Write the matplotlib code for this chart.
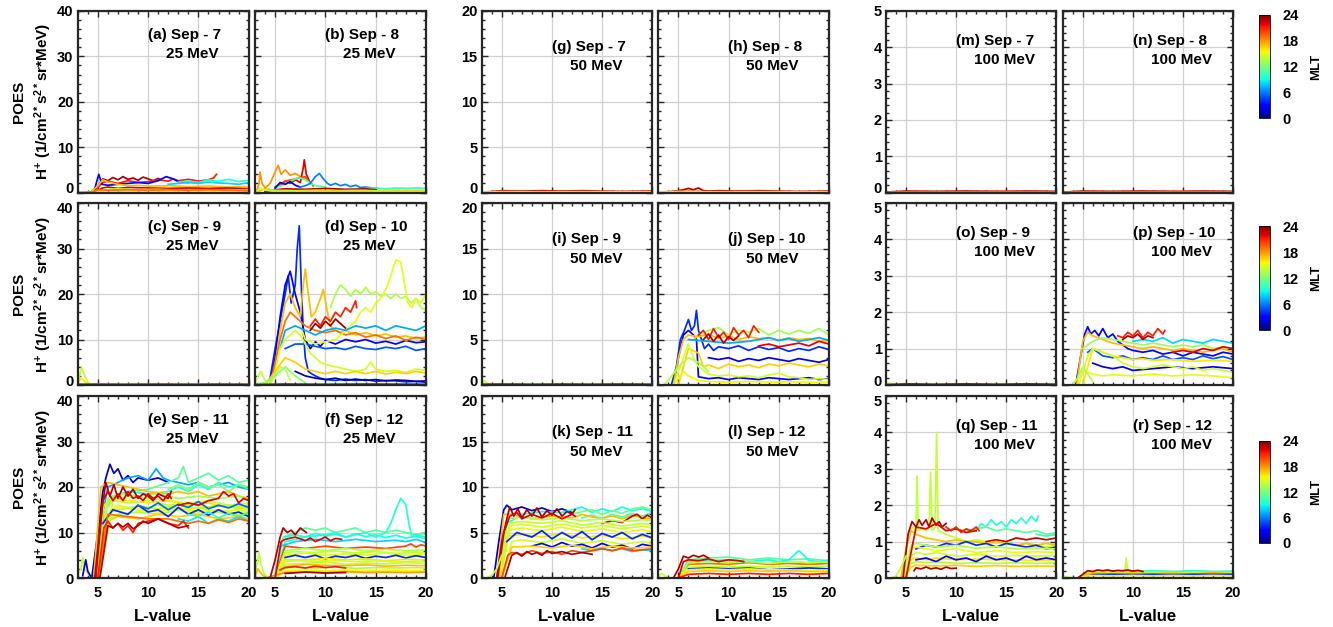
import matplotlib
matplotlib.use('Agg')
import matplotlib.pyplot as plt
from matplotlib.ticker import MultipleLocator
from matplotlib.colors import Normalize
from matplotlib.cm import ScalarMappable
from matplotlib.transforms import ScaledTranslation

plt.rcParams['font.family'] = 'Liberation Sans'
plt.rcParams['font.weight'] = 'bold'
plt.rcParams['mathtext.fontset'] = 'custom'
plt.rcParams['mathtext.rm'] = 'Liberation Sans:bold'
plt.rcParams['mathtext.bf'] = 'Liberation Sans:bold'
plt.rcParams['mathtext.it'] = 'Liberation Sans:bold'

# ---------------- data: (MLT, L-values, flux) per trace ----------------
panel_a = [
    (23, [4.3,5.0,5.5,6.0,6.5,7.0,7.5,8.0,8.5,9.0,9.5,10.0,10.5,11.0,11.3], [0,1.5,3.0,2.6,3.3,2.8,3.5,2.9,3.2,2.7,3.4,3.0,2.6,3.1,2.8]),
    (21, [4.5,5.5,6,7,8,9,10,11,12,12.5,13,14,15,16,16.5,16.8], [0,2.2,2.5,2.0,2.6,2.2,2.4,2.8,2.5,3.0,2.6,2.9,2.5,2.8,3.2,4.0]),
    (3, [4.6,4.9,5.1,5.4,6,7,8,9,10,11,11.8,12.5,13,14], [0,2.5,4.0,1.8,1.6,1.8,2.0,2.2,2.0,2.6,3.5,3.0,2.4,2.2]),
    (9.5, [13,14,15,16,17,18,19,20], [2.3,2.5,2.2,2.8,2.5,2.9,2.4,2.7]),
    (8, [12,13,14,15,16,17,18,19,20], [1.8,2.0,2.2,2.0,2.3,2.1,2.0,1.8,2.2]),
    (17, [4.3,5,5.5,6,7,8,9,10,12,14,16,18,20], [0,1.5,2.8,2.3,1.8,1.5,1.6,1.4,1.5,1.3,1.4,1.2,1.3]),
    (22, [4.5,5.5,6,7,8,10,12,14,16,18,20], [0,1.0,1.2,0.9,1.1,1.0,0.9,1.0,0.9,1.0,0.8]),
    (14, [4.5,5.5,7,9,11,13,15,17,20], [0,0.6,0.8,0.6,0.7,0.5,0.6,0.5,0.6]),
    (15.5, [3,4,5,6,8,10,12,14,16,18,20], [0,0.1,0.3,0.4,0.3,0.4,0.3,0.4,0.3,0.3,0.3]),
    (19, [3,4.5,5,6,8,10,12,14,16,18,20], [0,0.1,0.6,0.5,0.6,0.5,0.6,0.5,0.6,0.5,0.4]),
]
panel_b = [
    (18, [3.2,3.4,3.5,3.7,4.0,4.5,5.0,5.3,5.6,6.0,6.5,7.0,7.5,8.0], [0.5,2.0,4.5,2.0,1.0,2.0,4.5,6.0,4.0,5.0,3.8,4.2,3.5,3.0]),
    (22, [5.5,6,6.5,7,7.5,7.8,7.9,8.1,8.4,8.8], [1.5,2.5,2.0,2.8,2.2,5.5,7.2,4.0,2.5,1.5]),
    (20, [5,6,7,8,8.5], [1.2,2.5,3.0,3.5,2.0]),
    (11, [5,6,7,7.5,8,8.5,9,10], [1.0,1.8,3.0,3.2,2.8,2.0,1.5,1.2]),
    (2, [5,5.5,6,6.5,7,7.5], [1.0,2.2,1.8,2.4,1.6,1.2]),
    (6, [7.5,8,8.5,9,9.4,9.8,10.2,10.5,11,11.5,12,12.5,13,13.5,14,15], [1.2,1.5,2.0,3.5,4.2,3.0,2.0,1.6,2.0,1.5,1.8,1.3,1.6,1.1,1.2,0.9]),
    (10, [14,15,16,17,18,19,20], [0.9,1.0,0.8,1.0,0.9,1.0,0.9]),
    (23, [4,5,6,8,10,12,14,15], [0.2,0.6,0.8,0.7,0.9,0.7,0.8,0.6]),
    (17, [3.2,4,5,7,9,11,13,15,17,20], [0.2,0.8,0.5,0.4,0.5,0.4,0.5,0.4,0.4,0.4]),
    (14, [3.2,3.5,4,5,7,10,14,20], [0.3,1.0,0.5,0.3,0.3,0.2,0.3,0.2]),
]
panel_c = [
    (14, [3.0,3.2,3.4,3.6,3.8,4.0,4.3], [0.5,2.0,4.0,2.5,1.5,0.6,0.1]),
    (16, [3.0,3.3,3.6,4.0], [0.3,1.5,1.0,0.2]),
    (23, [3,5,8,11,14,17,20], [0.15,0.2,0.15,0.2,0.15,0.2,0.15]),
    (19, [3,6,10,15,20], [0.1,0.15,0.1,0.15,0.1]),
]
panel_d = [
    (4, [4.0,4.5,5.0,5.5,6.0,6.3,6.6,7.0,7.2,7.4,7.6,7.8,8.0,8.3,8.6,9.0,9.5,10,11,12,13,14,15,16,17,18,19,20],
        [0,1.5,8,14,20,24,18,22,30,35,22,12,6,3,2.5,2,1.5,1.2,1.0,1.3,1.0,1.2,0.8,1.0,0.9,0.7,0.8,0.6]),
    (2.5, [4.5,5,5.5,6,6.5,7,7.5,8,8.5,9,9.5,10,11,12,13,14,15,16,17,18,19,20],
          [0,6,15,22,25,20,16,10,8,9.5,8.5,9.8,9,10,9.5,10,9.2,9.6,9.0,9.8,9.3,9.5]),
    (17, [4.5,5,5.5,6,6.5,7,7.5,7.8,8.0,8.3,8.6,9,9.5,9.8,10.2,10.5,11,11.5,12,13,14,15,16,17,18,19,20],
         [0,4,12,18,20,17,15,22,25.5,20,15,16,19,21,16,13,12,11.5,12,11,11.5,10.8,11.2,10.5,10.8,10.2,10.6]),
    (19, [4.5,5.5,6,6.5,7,7.5,8,9,10,11,12,13,14,15,16,17,18,19,20],
         [0,10,14,16,15,14,13,12,11.5,12,11,11.5,10.5,11,10.2,10.8,9.8,10.5,10]),
    (21, [8.5,9,9.5,10,10.5,11,11.5,12,12.5,13,13.1], [13,14.5,13,15,14,16,15,17,16,18.5,17]),
    (23.5, [8.5,9,9.5,10,10.5,11,11.5,12], [12,13.5,12.5,14,13,14.5,13.5,12.5]),
    (13.5, [10.5,11,11.5,12,12.5,13,13.5,14,14.5,15,15.5,16,16.5,17,17.5,18,18.5,19,19.5,20],
           [17,20,22,21,19.5,21,20,21.5,20,20.5,19.5,20,19,20,19,19.5,18,19,17,16.5]),
    (15, [7.5,8,9,10,11,11.5,12,12.5,13,13.5,14,14.5,15,15.5,16,16.5,17,17.5,17.8,18.2,18.6,19,19.5,20],
         [13,10,9,9.5,10,11,12,13,14,16,17,16,18,19,21,24,27.5,27,23,18,17,19,18,20]),
    (7, [5.5,6,7,8,9,10,11,12,13,14,15,16,17,18,19,20], [8,12,13,12,11,12,12.5,12,13,12.5,13,12,13,12.5,12,13]),
    (5, [6,7,8,9,10,11,12,13,14,15,16,17,18,19,20], [8,9,9,8.5,8,8.2,7.8,8.5,8,7.8,8.3,8,8.5,7.6,8]),
    (14.5, [4.5,5,5.5,6,6.5,7,7.5,8,8.5,9,9.5,10,11,12,13,14,14.5,15,16,17,18,19,20],
           [0,3,8,10,11,12,11,9,7,6,5,4.5,4,3.5,3,3.5,5,3.5,3,3.2,2.8,3.5,3.2]),
    (16.5, [4,5,6,7,8,9,10,11,12,13,14,15,16,17,18,19,20], [0,3,6,5,3.5,3,2.5,3,2.5,3,2.5,3,2.4,2.8,2.5,3,2.6]),
    (1, [7,8,9,10,11,12,13,14,15,16,17,18,19,20], [3,2,1.5,1.2,1.5,1.0,1.3,1.0,1.2,0.9,1.1,1.0,0.8,0.9]),
    (14, [3.0,3.3,3.6,4.0,4.5,5,5.5,6,6.5], [0.5,2,3,1,0.5,2,4,3.5,1]),
    (12.5, [3,4,5,6,7,8], [0.2,0.5,2,4,2,0.5]),
    (23, [3,6,10,14,20], [0.1,0.2,0.15,0.2,0.15]),
]
panel_e = [
    (1.5, [4.4,5.0,5.5,5.8,6.2,6.6,7.0,7.5,8.0,8.5,9.0,10,11,12], [0,10,19,22,25,23,24,21.5,22.5,21,22,21.5,22,21]),
    (7, [4.6,5.3,6,7,8,9,10,10.8,11.5,12,13,14,15,16,17,18,19,20], [0,12,20,21,22,22.5,21.5,24,22,21.5,21,20.5,21,20,20.5,21,20,19.5]),
    (11, [4.8,5.5,6,8,10,12,13,13.5,14,15,16,17,18,19,20], [0,12,17,19,19.5,21,22,24.5,21,22,23,21.5,22.5,21,21.5]),
    (9.5, [4.8,5.6,6.5,8,10,12,13,14,15,16,17,18,19,20], [0,14,18,19,18.5,19,20,19,20.5,19.5,21,20,20.5,19.5]),
    (12, [12,13,14,15,16,17,18,19,20], [19.5,20.5,19.5,21,20,20.5,19,20.5,20]),
    (17, [4.6,5.3,6,8,10,12,13,14,15,16,17,18,19,20], [0,20,21,20,19,18.5,19,18.5,19,18,18.5,19,18,17.5]),
    (14.5, [5.2,6.5,8,10,12,14,16,18,20], [0,17,18,17.5,17,16.5,17,16,16.5]),
    (13, [5.0,6,7,9,11,13,15,17,19,20], [0,17.5,18.5,18,18.5,17.5,18,17.5,18,17]),
    (16, [4.7,5.6,6.5,8,10,12,14,16,18,20], [0,16,17.5,17,16.5,17,16,16.5,15.5,16]),
    (14, [4.8,5.8,6.5,8,10,12,14,16,18,20], [0,15,17,16.5,17,16,16.5,15.5,16,15]),
    (15.5, [5.1,6.3,7,9,11,13,15,17,19,20], [0,15,16,15,14.5,15.5,14.5,15,14,14.5]),
    (15, [5.0,6.0,7,9,11,13,15,17,19,20], [0,14,15.5,15,16,15,15.5,14.5,15,14.5]),
    (13.5, [5.0,6.2,7,9,11,13,15,17,19,20], [0,13,14,14.5,14,15,14,14.5,13.5,14]),
    (16.5, [5.0,6,7,9,11,13,15,17,19,20], [0,12.5,13.5,13,14,13.5,14,13,13.5,13]),
    (14, [5.2,6.3,7,9,11,13,15,17,19,20], [0,14.5,15,15.8,15.2,16,15.3,16,15.2,15.6]),
    (4, [5.5,6.5,8,9,10,11,12,13,14,15,16,17,18,19,20], [12,15,14,16,14.5,15,13.5,15.5,14,15,13.8,15,14,14.5,13.5]),
    (5.5, [9,10,11,12,13,14,15,16,17,18,19,20], [16,15.2,16.5,15,16.2,15.5,16.8,15.2,16,15.4,16.3,15.5]),
    (8.5, [13,14,15,16,17,18,19,20], [13,12.5,13.5,12,13,12.5,13.5,12.5]),
    (10, [14,15,16,17,18,19,20], [14,13.5,14.5,13.2,14.2,13.6,14.4]),
    (19, [5,6,8,10,12,13,14,15,16,17,18,19,20], [0,14,13.5,13,13,12.5,12,12.5,12,12.8,12.2,13,12.5]),
    (23, [4.7,5.4,5.8,6.2,6.6,7,7.5,8,8.5,9,9.5,10,10.5,11,11.5,12,12.3], [0,15,21,18,20.5,17.5,20,18,19.5,17.5,18.5,18,17,18.5,18,17.5,19]),
    (22, [4.8,5.5,6,6.5,7,7.5,8,8.5,9,9.5,10,10.5,11,11.5,12,12.3], [0,17,19,17,18.5,17,19,17.5,18,17,18.5,17.5,18,17,18.5,17.5]),
    (21, [5,5.6,6,6.5,7,7.5,8,8.5,9,10,11,12,13,13.5,14], [0,11,12.5,11,12,10.5,11.5,10,12,12.5,13,12,11.5,12.5,11]),
    (23, [5.2,6,6.5,7,7.5,8,8.5,9,9.5,10,11,12,13,14], [0,11.5,11,12,11.2,12,10.8,11.5,12.5,12,13,12,11,11.5]),
    (22, [13,14,15,16,17,17.5,18,18.5,19,19.5,20], [16,16.5,16,17,17.5,19,18,18.5,16.5,17.5,17]),
    (14, [3.0,3.3,3.5,3.7,4.0,4.4], [0.5,2,4.5,2,1,0]),
    (2, [3.5,3.8,4.0,4.3], [0.5,4,1.5,0.3]),
]
panel_f = [
    (11, [5,5.8,7,8,9,10,11,12,13,14,15,16,17,18,19,20], [0,9,10,11,10.5,11,10,10.5,11,10,10.5,10,10.5,10,9.5,10]),
    (9.5, [5,6,8,10,11,12,13,14,15,16,16.5,17,17.5,18,18.3,18.6,19,20], [0,8,9,9.5,10,9,9.5,10,9,10,12,15,17.5,16,12,9,9.5,9]),
    (8, [5.5,7,9,11,13,15,17,18,19,20], [7,8,8.5,8,8.5,8,8.3,8,8.5,7.8]),
    (9, [6,7,8,9,10,11,12,13,14,15,16,17,18,19,20], [9,9.5,9,9.8,9.2,9.6,9,9.7,9.1,9.5,8.9,9.4,8.8,9.2,8.6]),
    (20, [5,6,8,10,12,14,16,18,18.5,19,19.5,20], [0,7,6.5,7,6.5,6.8,6.5,7,7.5,6.8,7.3,7]),
    (13.5, [5,6,8,10,12,14,16,18,20], [0,6,6.5,6,6.5,6,6.3,6,6.2]),
    (14, [5,6,7,9,11,13,15,17,19,20], [0,5.5,5.8,5.6,5.9,5.5,5.8,5.4,5.7,5.5]),
    (15, [5,6,8,10,12,14,16,18,20], [0,5,5.5,5,5.3,5,5.5,5,5.3]),
    (4, [6,7,8,9,10,11,12,13,14,15,16,17,18,19,20], [4.5,5,4.5,5,4.2,4.8,4.5,5,4.3,4.8,4.5,5,4.4,4.9,4.5]),
    (16, [5,6,8,10,12,14,16,18,20], [0,4,4,4.3,4,4.2,3.8,4.1,4]),
    (14.5, [5,6,7,9,11,13,15,17,19,20], [0,3.6,3.8,3.7,3.9,3.6,3.8,3.5,3.7,3.6]),
    (14, [5,6,8,10,12,14,16,18,20], [0,3,3.2,3.5,3,3.3,3.1,3.4,3.2]),
    (17, [5,6,8,10,12,14,16,18,20], [0,2.5,3,2.8,2.7,2.9,2.6,2.8,2.7]),
    (13.5, [5,6,7,9,11,13,15,17,19,20], [0,2.2,2.3,2.2,2.4,2.1,2.3,2.2,2.3,2.2]),
    (15.5, [5,6,8,10,12,14,16,18,20], [0,1.5,1.8,1.6,1.7,1.5,1.7,1.6,1.7]),
    (18, [4,6,8,10,12,14,16,18,20], [0,1.2,1.3,1.2,1.4,1.2,1.3,1.2,1.3]),
    (23, [4.5,5.0,5.5,5.8,6.2,6.6,7,7.5,8.1], [0,4,9,11,10,10.5,9.5,11,10]),
    (22, [5.0,5.6,6,7,8,8.5,9,9.5,10,10.5,11,11.6], [0,8,8.5,9,8.2,8.8,8,8.5,9,8.2,8.7,8.5]),
    (21, [5.5,6,7,8,9,10,11,12], [1.8,2.3,2.5,2.2,2.6,2.3,2.5,2.2]),
    (23.5, [6,8,10,12], [1.0,1.3,1.1,1.2]),
    (14, [3,3.2,3.4,3.6,3.9,4.3], [0.5,3,5.5,3,1,0]),
    (17, [3,3.3,3.6,4], [0.3,2,1,0.2]),
]
panel_g = [
    (23, [3,4,5,7,9,11,13,15,17,20], [0.05,0.1,0.2,0.15,0.2,0.15,0.2,0.15,0.1,0.15]),
    (19, [3,5,8,12,16,20], [0.05,0.12,0.1,0.12,0.1,0.1]),
    (15, [3,5,10,15,20], [0.05,0.08,0.06,0.08,0.06]),
]
panel_h = [
    (23, [4,5,5.5,6,6.5,7,7.5,8,9,11,13,15,17,20], [0.05,0.2,0.3,0.45,0.3,0.5,0.2,0.15,0.2,0.15,0.2,0.15,0.1,0.15]),
    (19, [3,5,8,12,16,20], [0.05,0.15,0.1,0.12,0.1,0.1]),
    (15, [3,5,10,15,20], [0.05,0.08,0.06,0.08,0.06]),
]
panel_i = [
    (14, [3,3.2,3.4,3.7,4.0], [0.1,0.5,0.3,0.1,0.05]),
    (23, [3,5,8,11,14,17,20], [0.08,0.1,0.08,0.1,0.08,0.1,0.08]),
]
panel_j = [
    (4, [4.3,4.8,5.2,5.6,6.0,6.3,6.6,6.8,7.0,7.3,7.6,8,8.5,9,10,11,12,13,14,15,16,17,18,19,20],
        [0,2,5,6,7.2,6,6.5,8.2,6,5,4,4.5,3.8,4.2,4.0,4.3,3.8,4.2,3.9,4.1,3.7,4.0,3.8,4.2,3.9]),
    (3, [4.5,5,5.5,6,6.5,6.8,7.0,7.5,8,9,10,11,12,13,14,15,16,17,18,19,20],
        [0,3,5.5,6,5.5,5,0.9,0.8,0.7,0.8,0.6,0.8,0.7,0.6,0.8,0.7,0.6,0.7,0.8,0.6,0.7]),
    (13, [6.5,7,8,9,10,11,12,13,14,15,16,17,18,19,20], [5,5.5,6,6.3,5.5,6,5.8,6.2,5.5,6,5.6,6,5.7,6.2,5.5]),
    (17, [4.5,5,5.5,6,7,8,9,10,11,12,13,14,15,16,17,18,19,20], [0,3,5,5.5,5.3,5.6,5.1,5.4,5,5.3,5.1,5.2,4.9,5.2,5,5.1,4.8,5]),
    (7, [6,8,10,12,13,14,15,16,17,18,19,20], [5,4.8,4.6,4.8,5,5.2,4.9,5.1,4.8,5,5.2,4.9]),
    (22, [13,14,15,16,17,18,19,20], [4.3,4.5,4.2,4.4,4.6,4.3,4.8,4.5]),
    (2, [8,9,10,11,12,13,14,15,16,17,18,19,20], [3,2.8,3,2.6,2.9,2.7,3,2.8,2.6,2.9,2.7,2.5,2.8]),
    (16.5, [5,6,7,7.5,8,9,10,11,12,13,14,15,16,17,18,19,20], [0,4,3.5,2,2.2,1.8,2.3,2,2.2,1.9,2.3,2.1,2.4,2.2,2,2.3,2.1]),
    (14.5, [4.5,5.5,6,6.5,7,8,9,10,11,12,13,14,15,16,17,18,19,20], [0,3,4.5,3,2,1.2,1,1.1,0.9,1,0.8,1.1,1.3,0.9,0.8,0.6,0.7,0.6]),
    (15.5, [4.5,5.5,6,7,8,10,12,14,16,18,20], [0,1.5,1,0.5,0.4,0.3,0.4,0.3,0.35,0.3,0.3]),
    (21, [7,7.5,8,8.5,9,9.5,10,10.5,11,11.5,12,12.5,13], [5.5,6,5,6.2,5.2,5.8,5,6.3,5.5,6,5.2,6.5,5.8]),
    (23, [7.5,8,8.5,9,9.5,10,10.5,11], [5,5.6,4.8,5.5,4.6,5.3,4.9,5.4]),
    (13.5, [3.5,4,5,6,7,8], [0,0.5,2,3,2.5,1.5]),
]
panel_k = [
    (1.5, [4.2,4.7,5.2,5.5,6,7,8,9,10,11,12], [0,4,7.5,8,7.5,7.8,7.4,7.7,7.3,7.6,7.2]),
    (9, [4.6,5.5,7,9,11,12,13,14,15,16,17,18,19,20], [0,6,7,7.3,7.2,7.5,7.8,7.2,7.6,7.3,7.8,7.4,7.6,7.3]),
    (11.5, [12,13,14,15,16,17,18,19,20], [7,7.3,7.5,7,7.4,7.1,7.6,7.8,7.5]),
    (10.5, [13,14,15,16,17,18,19,20], [6.6,6.9,6.5,7,6.7,7.1,6.8,7.2]),
    (17, [4.5,5.2,6,8,10,12,13,14,15,16,17,18,19,20], [0,7,7,6.5,6.8,6.6,7,6.7,6.6,6.8,6.5,6.9,6.6,6.5]),
    (22.5, [15,16,17,18,18.5,19,19.5,20], [6,6.3,6.1,6.8,7,6.5,6.9,6.6]),
    (14, [4.8,5.8,7,9,11,13,15,17,19,20], [0,6,6.2,6,6.3,5.8,6.1,5.7,6,5.8]),
    (13.5, [4.8,5.6,7,9,11,13,15,17,19,20], [0,6.5,6.7,6.4,6.6,6.3,6.5,6.2,6.4,6.3]),
    (15, [4.8,5.8,7,9,11,13,15,17,19,20], [0,5.3,5.5,5.2,5.6,5.1,5.4,5,5.3,5.1]),
    (14.5, [4.9,5.8,7,9,11,13,15,17,19,20], [0,5.7,5.9,5.6,5.9,5.5,5.8,5.4,5.7,5.5]),
    (16, [4.8,5.6,7,9,11,13,15,17,19,20], [0,4.6,4.8,4.5,4.9,4.4,4.7,4.3,4.6,4.4]),
    (14.5, [5,6,7,9,11,13,15,17,19,20], [0,4,4.2,3.9,4.3,3.8,4.1,3.7,4,3.8]),
    (4, [5.5,6.5,8,9,10,11,12,13,14,15,16,17,18,19,20], [4,5,4.5,5.2,4.3,5,4.4,5.1,4.2,4.9,4.5,5,4.3,4.8,4.4]),
    (3, [8,9,10,11,12,13,14,15,16,17,18,19,20], [3.5,3.8,3.4,3.9,3.5,3.7,3.3,3.8,3.4,3.6,3.2,3.7,3.5]),
    (16.5, [5,6,8,10,12,14,16,18,20], [0,3.4,3.5,3.3,3.6,3.2,3.5,3.3,3.4]),
    (8.5, [13,14,15,16,17,18,19,20], [3.2,3,3.3,3,3.2,2.9,3.1,3]),
    (20, [5,5.6,6,7,8,9,10,11,12,13,14,15,16,17,18,19,20], [0,2.5,2.8,2.6,3,2.7,2.9,2.6,3,2.8,3,3.2,3,3.3,3,3.1,3.2]),
    (23, [4.5,5,5.5,5.8,6.2,6.6,7,7.5,8,8.5,9,9.5,10,10.5,11,11.5,12,12.3], [0,4,6.5,7.8,6.8,7.6,6.6,7.5,6.8,7.7,6.7,7.4,6.9,7.6,6.8,7.3,7,7.5]),
    (22, [4.6,5.2,5.8,6.5,7,8,9,10,11,12,12.3], [0,5,6.8,7.2,6.5,7,6.6,7.1,6.5,7,6.8]),
    (23, [5.3,6,6.5,7,7.5,8,8.5,9,9.5,10,11,12,13,14], [0,2.5,2.8,2.4,2.9,2.6,2.8,2.5,3,2.7,2.9,2.6,2.8,2.6]),
    (14, [3.5,4,4.5,5,5.5], [0,0.3,1,2.5,3]),
]
panel_l = [
    (11, [5,6,8,10,12,14,16,18,20], [0,2,2.2,2.3,2,2.2,2,2.1,1.9]),
    (9, [5,6,8,10,12,14,15,16,16.5,17,17.5,18,19,20], [0,1.8,1.9,2,1.8,2,1.8,2,2.5,3,2.5,1.9,1.8,1.9]),
    (19, [5,6,8,10,12,14,16,18,20], [0,1.5,1.6,1.5,1.7,1.5,1.6,1.5,1.6]),
    (13.5, [5,6,8,10,12,14,16,18,20], [0,1.7,1.8,1.7,1.8,1.6,1.8,1.7,1.8]),
    (14, [5,6,8,10,12,14,16,18,20], [0,1.2,1.3,1.2,1.3,1.2,1.3,1.2,1.3]),
    (4, [6,8,10,12,14,16,18,20], [1,1.1,1,1.1,0.9,1,1.1,1]),
    (15.5, [5,6,8,10,12,14,16,18,20], [0,0.9,1,0.9,1,0.9,0.9,0.8,0.9]),
    (16.5, [5,6,8,10,12,14,16,18,20], [0,0.7,0.8,0.7,0.8,0.7,0.8,0.7,0.7]),
    (21, [5,6,8,10,12,14,16,18,20], [0,0.4,0.5,0.4,0.5,0.4,0.5,0.4,0.5]),
    (23, [4.5,5,5.5,6,6.5,7,7.5,8], [0,1,2.4,2.2,2.5,2.3,2.5,2.2]),
    (22, [5,5.5,6,7,8,9,10,11,11.5], [0,1.8,2,1.9,2.1,1.8,2,1.9,1.8]),
    (14, [3,3.3,3.6,4], [0.1,0.5,0.3,0]),
]
panel_m = [
    (23, [3,5,8,11,14,17,20], [0.01,0.04,0.03,0.04,0.03,0.04,0.03]),
    (19, [3,6,10,15,20], [0.01,0.03,0.02,0.03,0.02]),
]
panel_n = [
    (23, [3,5,8,11,14,17,20], [0.01,0.04,0.03,0.04,0.03,0.04,0.03]),
    (19, [3,6,10,15,20], [0.01,0.03,0.02,0.03,0.02]),
]
panel_o = [
    (14, [3,3.3,3.6,4], [0.01,0.05,0.03,0.01]),
    (23, [3,5,8,11,14,17,20], [0.01,0.03,0.02,0.03,0.02,0.03,0.02]),
]
panel_p = [
    (3, [4.3,4.8,5.2,5.5,5.8,6.2,6.6,7,7.5,8,8.5,9,9.5,10,11,12,13,14,15,16,17,18,19,20],
        [0,0.8,1.4,1.6,1.4,1.5,1.35,1.55,1.3,1.4,1.2,1.1,1.0,0.95,0.9,0.95,0.85,0.9,0.8,0.9,0.85,0.8,0.9,0.85]),
    (17, [4.4,5,5.5,6,6.5,7,8,9,10,11,12,13,14,15,16,17,18,19,20], [0,1.2,1.45,1.35,1.3,1.25,1.15,1.1,1.05,1,1.05,1,0.95,1,0.95,0.9,0.95,1,0.9]),
    (8, [10,11,12,13,14,15,16,17,18,19,20], [1.2,1.25,1.2,1.3,1.15,1.25,1.2,1.15,1.25,1.2,1.15]),
    (13, [5,6,7,8,9,10,11,12,13,14,15,16,17,18,19,20], [1,1.2,1.3,1.25,1.2,1.15,1.1,1.15,1.1,1.05,1.1,1.05,1.1,1,1.05,1]),
    (22, [14,15,16,17,18,19,20], [0.9,0.95,0.9,1,0.95,1.05,1]),
    (5, [5.5,6,7,8,9,10,11,12,13,14,15,16,17,18,19,20], [0.9,1,0.8,0.75,0.8,0.7,0.75,0.7,0.8,0.7,0.75,0.7,0.8,0.72,0.78,0.7]),
    (16, [5,6,7,8,9,10,11,12,14,16,18,20], [0,1,0.9,0.8,0.75,0.7,0.72,0.68,0.7,0.65,0.68,0.65]),
    (2, [6,7,8,9,10,12,14,16,18,20], [0.6,0.5,0.45,0.5,0.4,0.45,0.5,0.45,0.5,0.45]),
    (14.5, [4.6,5.5,6,7,8,9,10,11,12,13,14,15,16,17,18,19,20], [0,0.8,1.0,0.9,0.8,0.6,0.5,0.45,0.5,0.55,0.5,0.45,0.5,0.4,0.45,0.4,0.35]),
    (15, [4.5,5,6,7,8,10,12,14,16,18,20], [0,0.4,0.3,0.25,0.28,0.25,0.3,0.25,0.28,0.25,0.2]),
    (21, [8.5,9,9.5,10,10.5,11,11.5,12,12.5,13,13.2], [1.35,1.3,1.45,1.35,1.5,1.3,1.45,1.35,1.55,1.4,1.5]),
    (23, [9,9.5,10,10.5,11,11.5,12], [1.25,1.35,1.3,1.4,1.25,1.35,1.3]),
    (13.5, [4,4.5,5,5.5,6], [0,0.2,0.5,0.3,0.1]),
]
panel_q = [
    (14, [4.5,5.3,5.8,6.0,6.1,6.2,6.6,7.0,7.3,7.45,7.6,7.9,8.05,8.2,9,10,11,12,13,14,15,16,17,18,19,20],
         [0,1.3,1.4,1.3,2.8,1.3,1.35,1.3,1.4,2.9,1.3,1.4,4.0,1.3,1.2,1.1,1.0,1.05,1.0,0.95,1,0.9,0.95,0.9,0.85,0.9]),
    (9.5, [12,12.5,13,13.5,14,14.5,15,15.5,16,16.5,17,17.5,18,18.2], [1.3,1.5,1.4,1.6,1.45,1.55,1.4,1.6,1.5,1.65,1.5,1.7,1.55,1.7]),
    (11, [9,10,11,12,13,14,15,16,17,18,19,20], [1.3,1.35,1.3,1.35,1.4,1.3,1.35,1.3,1.25,1.3,1.2,1.25]),
    (10, [18,19,20], [1.2,1.15,1.2]),
    (22.5, [13,14,15,16,17,18,19,20], [1.0,1.05,1.0,1.1,1.05,1.1,1.05,1.1]),
    (17, [4.5,5,5.5,6,7,8,9,10,11,12,13,14,15,16,17,18,19,20], [0,0.8,1.3,1.2,1.1,1.05,1,1.05,1,1.0,0.95,1,0.95,0.9,0.95,0.9,0.95,0.9]),
    (4, [6,7,8,9,10,11,12,13,14,15,16,17,18,19,20], [0.8,0.9,0.85,0.95,0.9,1,0.9,0.95,0.85,0.95,0.9,0.85,0.9,0.8,0.85]),
    (15, [4.7,5.5,6,7,8,10,12,14,16,18,20], [0,0.8,0.85,0.8,0.75,0.8,0.7,0.75,0.7,0.72,0.7]),
    (13.5, [4.7,5.5,6,7,8,10,12,14,16,18,20], [0,0.9,0.95,0.9,0.85,0.9,0.82,0.86,0.8,0.82,0.8]),
    (14.5, [4.8,5.5,6,7,8,10,12,14,16,18,20], [0,0.6,0.7,0.65,0.7,0.6,0.65,0.6,0.62,0.6,0.62]),
    (16, [4.8,5.5,6,7,8,10,12,14,16,18,20], [0,0.5,0.55,0.5,0.55,0.5,0.52,0.5,0.5,0.48,0.5]),
    (13.5, [4.8,5.5,6,7,8,10,12,14,16,18,20], [0,0.4,0.45,0.42,0.45,0.4,0.42,0.4,0.42,0.4,0.42]),
    (3, [6,7,8,9,10,11,12,13,14,15,16,17,18,19,20], [0.5,0.55,0.45,0.6,0.5,0.55,0.45,0.6,0.5,0.55,0.45,0.6,0.5,0.55,0.5]),
    (16.5, [4.8,5.5,6,8,10,12,14,16,18,20], [0,0.3,0.35,0.33,0.35,0.32,0.34,0.32,0.33,0.32]),
    (23, [4.7,5.2,5.6,6,6.3,6.6,7,7.3,7.6,8,8.3,8.6,9], [0,1.2,1.55,1.4,1.6,1.45,1.6,1.4,1.65,1.45,1.55,1.4,1.5]),
    (22, [5,6,7,8,9,10,11,12], [0,1.4,1.35,1.5,1.3,1.35,1.25,1.3]),
    (21, [9,9.5,10,10.5,11,11.5,12,12.3], [1.4,1.3,1.4,1.25,1.35,1.3,1.4,1.3]),
    (23, [5.8,6,6.5,7,7.5,8,8.5,9,9.5,10], [0.2,0.28,0.25,0.3,0.25,0.28,0.24,0.3,0.26,0.27]),
    (14, [3.5,4,4.5,5], [0,0.05,0.3,0.6]),
]
panel_r = [
    (9.5, [5,6,8,10,12,14,16,18,20], [0,0.15,0.17,0.18,0.2,0.18,0.2,0.18,0.19]),
    (14, [4.5,5.5,6,7,8,9,9.2,9.35,9.5,10,11,12,14,16,18,20], [0,0.15,0.16,0.15,0.16,0.15,0.16,0.55,0.15,0.14,0.15,0.14,0.15,0.14,0.15,0.14]),
    (17, [4.5,5.5,6,8,10,12,14,16,18,20], [0,0.12,0.13,0.12,0.13,0.12,0.13,0.12,0.13,0.12]),
    (20, [5,6,8,10,12,14,16,18,20], [0,0.1,0.11,0.1,0.11,0.1,0.11,0.12,0.11]),
    (4, [6,8,10,12,14,16,18,20], [0.08,0.09,0.08,0.09,0.08,0.09,0.08,0.09]),
    (15.5, [4.5,5.5,6,8,10,12,14,16,18,20], [0,0.06,0.07,0.06,0.07,0.06,0.07,0.06,0.07,0.06]),
    (23, [4.5,5,5.5,6,6.5,7,7.5,8,8.5,9,9.5,10,10.5,11], [0,0.1,0.2,0.18,0.22,0.2,0.22,0.19,0.21,0.2,0.22,0.19,0.21,0.18]),
    (14, [3,3.3,3.6,4], [0.01,0.04,0.02,0.0]),
]

panel_letters = [['a', 'b', 'g', 'h', 'm', 'n'],
                 ['c', 'd', 'i', 'j', 'o', 'p'],
                 ['e', 'f', 'k', 'l', 'q', 'r']]
row_dates = [['Sep - 7', 'Sep - 8'], ['Sep - 9', 'Sep - 10'], ['Sep - 11', 'Sep - 12']]
col_energy = ['25 MeV', '25 MeV', '50 MeV', '50 MeV', '100 MeV', '100 MeV']
col_ymax = [40, 40, 20, 20, 5, 5]
xticks_vals = [5, 10, 15, 20]
cbar_ticks = [0, 6, 12, 18, 24]

panels = {'a': panel_a, 'b': panel_b, 'c': panel_c, 'd': panel_d, 'e': panel_e, 'f': panel_f,
          'g': panel_g, 'h': panel_h, 'i': panel_i, 'j': panel_j, 'k': panel_k, 'l': panel_l,
          'm': panel_m, 'n': panel_n, 'o': panel_o, 'p': panel_p, 'q': panel_q, 'r': panel_r}

# ---------------- layout (pixels) ----------------
W, H = 1333, 627
col_x = [(77.7, 248.7), (255, 426), (481.7, 652.3), (658.3, 829), (886, 1056.3), (1062.7, 1233)]
row_y = [(11, 192.5), (203, 385), (396, 578)]
cbar_y = [(15, 118), (226, 330), (441, 543)]
cbar_x = (1259, 1270)
ymajor = {40: 10, 20: 5, 5: 1}
yminor = {40: 2, 20: 1, 5: 0.2}
text_y = {40: (0.868, 0.762), 20: (0.80, 0.695), 5: (0.835, 0.73)}

fig = plt.figure(figsize=(W / 100, H / 100), dpi=100)
cmap = plt.get_cmap('jet')
norm = Normalize(0, 24)


def rect(x0, x1, y0, y1):
    return [x0 / W, 1 - y1 / H, (x1 - x0) / W, (y1 - y0) / H]


left_axes = []
for r in range(3):
    for c in range(6):
        x0, x1 = col_x[c]
        y0, y1 = row_y[r]
        ax = fig.add_axes(rect(x0, x1, y0, y1))
        letter = panel_letters[r][c]
        for mlt, Ls, Fs in panels[letter]:
            ax.plot(Ls, Fs, color=cmap(norm(mlt)), lw=1.25)
        ymax = col_ymax[c]
        ax.set_xlim(3, 20)
        ax.set_ylim(0, ymax)
        ax.set_xticks(xticks_vals)
        ax.xaxis.set_minor_locator(MultipleLocator(1))
        ax.set_yticks([ymajor[ymax] * k for k in range(int(ymax / ymajor[ymax]) + 1)])
        ax.yaxis.set_minor_locator(MultipleLocator(yminor[ymax]))
        ax.grid(True, which='major', color='#d0d0d0', lw=0.9)
        ax.set_axisbelow(True)
        ax.tick_params(which='both', direction='in', top=True, right=True,
                       labelsize=10.5, color='#262626', width=1.0)
        ax.tick_params(which='major', length=4.5)
        ax.tick_params(which='minor', length=2.5)
        ax.tick_params(axis='x', pad=6)
        ax.tick_params(axis='y', pad=3)
        for sp in ax.spines.values():
            sp.set_linewidth(1.6)
            sp.set_color('#262626')
        if c % 2 == 1:
            ax.tick_params(labelleft=False)
        else:
            left_axes.append((r, ax))
        if r < 2:
            ax.tick_params(labelbottom=False)
        else:
            ax.set_xlabel('L-value', fontsize=12, fontweight='bold', labelpad=6)
        ty1, ty2 = text_y[ymax]
        ax.text(0.41, ty1, '(%s) %s' % (letter, row_dates[r][c % 2]), transform=ax.transAxes,
                ha='left', va='center', fontsize=11, fontweight='bold')
        ax.text(0.516, ty2, col_energy[c], transform=ax.transAxes,
                ha='left', va='center', fontsize=11, fontweight='bold')

    # y labels of the row
    yc = 1 - (row_y[r][0] + row_y[r][1]) / 2 / H
    fig.text(18.5 / W, yc, 'POES', rotation=90, ha='center', va='center', fontsize=11, fontweight='bold')
    fig.text(43 / W, yc, r'H$^{+}$ (1/cm$^{2*}$s$^{2*}$sr*MeV)', rotation=90,
             ha='center', va='center', fontsize=11, fontweight='bold')

    # colorbar
    cy0, cy1 = cbar_y[r]
    cax = fig.add_axes(rect(cbar_x[0], cbar_x[1], cy0, cy1))
    cb = fig.colorbar(ScalarMappable(norm=norm, cmap=cmap), cax=cax, ticks=cbar_ticks)
    cb.outline.set_linewidth(0.6)
    cax.tick_params(length=0, labelsize=10.5, pad=9)
    cb.set_label('MLT', fontsize=9.5, fontweight='bold', labelpad=8)

# nudge the touching "0" / top labels between stacked rows apart a little
fig.canvas.draw()
for r, ax in left_axes:
    labels = ax.get_yticklabels()
    if r < 2:
        labels[0].set_transform(labels[0].get_transform() + ScaledTranslation(0, 3.5 / 72, fig.dpi_scale_trans))
    if r > 0:
        labels[-1].set_transform(labels[-1].get_transform() + ScaledTranslation(0, -3.5 / 72, fig.dpi_scale_trans))

fig.savefig('out.png', dpi=100)
